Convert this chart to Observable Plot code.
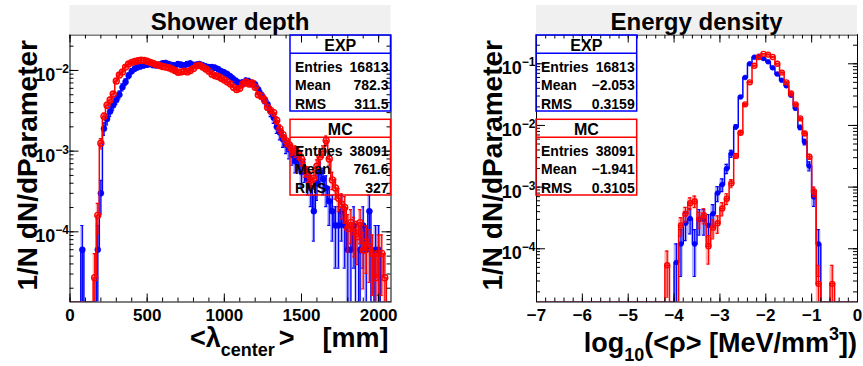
<!DOCTYPE html>
<html><head><meta charset="utf-8">
<script src="https://cdn.jsdelivr.net/npm/d3@7"></script>
<script src="https://cdn.jsdelivr.net/npm/@observablehq/plot@0.6"></script>
<style>
body{margin:0;background:#fff;}
#wrap{display:flex;width:863px;height:366px;overflow:hidden;}
svg{flex:none;}
</style></head><body><div id="wrap"></div>
<script>
// ---------------- data ----------------
// Shower depth: bin centres every 20 mm (0 ... 2060)
const depthCenters = d3.range(0, 2080, 20);
const depthEXP = [
  0,0,0,0,6e-5,0,0,0,0,6e-5,
  3.0e-4,1.9e-3,2.5e-3,3.1e-3,3.7e-3,4.3e-3,5.0e-3,6.2e-3,7.2e-3,8.6e-3,
  9.8e-3,1.05e-2,1.1e-2,1.13e-2,1.16e-2,1.18e-2,1.2e-2,1.17e-2,1.16e-2,1.18e-2,
  1.22e-2,1.24e-2,1.2e-2,1.17e-2,1.15e-2,1.2e-2,1.18e-2,1.15e-2,1.2e-2,1.22e-2,
  1.17e-2,1.18e-2,1.2e-2,1.16e-2,1.12e-2,1.1e-2,1.1e-2,1.08e-2,1.04e-2,9.8e-3,
  9.4e-3,9.0e-3,8.4e-3,7.8e-3,7.3e-3,6.9e-3,7.0e-3,7.4e-3,7.3e-3,6.9e-3,
  6.7e-3,5.8e-3,5.0e-3,4.4e-3,3.8e-3,3.1e-3,2.6e-3,2.0e-3,1.7e-3,1.4e-3,
  1.2e-3,1.05e-3,9.0e-4,7.5e-4,8.0e-4,5.5e-4,6.0e-4,4.5e-4,3.5e-4,1.8e-4,
  4.0e-4,5.5e-4,4.5e-4,3.5e-4,2.4e-4,1.8e-4,1.2e-4,1.2e-4,1.8e-4,1.2e-4,
  6e-5,6e-5,1.2e-4,0,6e-5,1.2e-4,6e-5,1.8e-4,0,6e-5,
  6e-5,0,0,0
];
const depthMC = [
  0,0,0,0,0,0,0,0,2.7e-5,1.6e-4,
  1.25e-3,2.7e-3,3.7e-3,4.3e-3,5.1e-3,7.4e-3,8.8e-3,9.6e-3,1.1e-2,1.2e-2,
  1.26e-2,1.29e-2,1.32e-2,1.34e-2,1.33e-2,1.3e-2,1.26e-2,1.22e-2,1.18e-2,1.15e-2,
  1.12e-2,1.1e-2,1.08e-2,1.04e-2,1.0e-2,9.5e-3,9.6e-3,9.8e-3,9.6e-3,1.0e-2,
  1.06e-2,1.14e-2,1.16e-2,1.1e-2,1.04e-2,9.8e-3,9.0e-3,8.6e-3,8.4e-3,8.0e-3,
  7.6e-3,7.2e-3,6.8e-3,6.2e-3,5.8e-3,6.0e-3,6.8e-3,7.2e-3,6.8e-3,7.0e-3,
  6.2e-3,5.0e-3,4.8e-3,4.3e-3,3.5e-3,3.2e-3,3.0e-3,2.4e-3,1.9e-3,1.6e-3,
  1.35e-3,1.2e-3,1.05e-3,1.0e-3,9.5e-4,8.0e-4,6.0e-4,5.2e-4,4.4e-4,4.6e-4,
  6.5e-4,8.5e-4,1.0e-3,1.35e-3,8.0e-4,4.4e-4,3.5e-4,2.6e-4,2.2e-4,2.0e-4,
  1.1e-4,1.3e-4,1.0e-4,8.7e-5,1.3e-4,5.9e-5,7.5e-5,6.5e-5,5.4e-5,2.7e-5,
  5.4e-5,5.4e-5,2.7e-5,0
];
// Energy density: bin centres every 0.1 (-4.15 ... -0.55)
const rhoCenters = d3.range(37).map(i => +(-4.15 + 0.1 * i).toFixed(2));
const rhoEXP = [
  0,0,6.0e-5,1.2e-4,2.6e-4,3.1e-4,1.2e-4,3.0e-4,3.0e-4,2.4e-4,
  3.7e-4,8.0e-4,1.1e-3,2.0e-3,3.5e-3,9.5e-3,2.9e-2,6.0e-2,0.100,0.128,
  0.132,0.122,0.108,0.086,0.068,0.054,0.044,0.031,0.019,0.0093,
  0.0054,0.0022,6.9e-4,1.2e-4,0,0,0
];
const rhoMC = [
  5.4e-5,0,0,2.4e-4,3.7e-4,5.5e-4,5.9e-4,3.0e-4,3.5e-4,1.1e-4,
  2.2e-4,2.6e-4,4.5e-4,6.5e-4,1.15e-3,3.2e-3,7.6e-3,2.2e-2,5.0e-2,9.3e-2,
  0.129,0.145,0.141,0.129,0.100,0.072,0.050,0.033,0.022,0.013,
  0.0074,0.0031,8.5e-4,2.7e-5,0,0,2.7e-5
];
const entriesEXP = 16813, entriesMC = 38091;
const statLabels = ["Entries", "Mean", "RMS"];
const depthStatsEXP = ["16813", "782.3", "311.5"];
const depthStatsMC  = ["38091", "761.6", "327"];
const rhoStatsEXP = ["16813", "\u22122.053", "0.3159"];
const rhoStatsMC  = ["38091", "\u22121.941", "0.3105"];
const depthXTicks = [0, 500, 1000, 1500, 2000];
const rhoXTicks = [-7, -6, -5, -4, -3, -2, -1, 0];

// ---------------- helpers ----------------
const BLUE = "#0000ff", RED = "#ff0000";
const FONT = "'Liberation Sans', Arial, Helvetica, sans-serif";
function rows(xs, vs, N) {
  return xs.map((x, i) => ({x, v: vs[i], err: Math.sqrt(vs[i] / N)}));
}
function minorLog(domain) {
  const out = [];
  for (let e = -6; e <= 0; e++) for (let m = 1; m <= 9; m++) {
    const v = m * Math.pow(10, e);
    if (v >= domain[0] && v <= domain[1]) out.push(v);
  }
  return out;
}
function makePanel(c) {
  const height = 366, mt = 34.5, mb = 64.5;
  const fh = height - mt - mb, fw = c.width - c.ml - c.mr;
  const ymin = c.yDomain[0];
  const marks = [];
  for (const s of c.series) {
    const nz = s.rows.filter(d => d.v > 0);
    const first = s.rows[0].x, last = s.rows[s.rows.length - 1].x;
    // empty bins outside the listed range, down to the axis
    const line = [{x: c.xDomain[0], v: 0}, {x: first - c.bw, v: 0}, ...s.rows,
                  {x: last + c.bw, v: 0}, {x: c.xDomain[1], v: 0}]
      .filter(d => d.x >= c.xDomain[0] && d.x <= c.xDomain[1]);
    marks.push(
      Plot.rect(nz, {x1: d => d.x - c.bw / 2, x2: d => d.x + c.bw / 2,
        y1: d => Math.max(d.v - d.err, ymin), y2: d => d.v + d.err,
        fill: s.color, fillOpacity: 0.3, clip: true}),
      Plot.lineY(line, {x: "x", y: d => d.v > 0 ? d.v : ymin, curve: "step",
        stroke: s.color, strokeWidth: 1.5, clip: true}),
      Plot.ruleX(nz, {x: "x", y1: d => Math.max(d.v - d.err, ymin), y2: d => d.v + d.err,
        stroke: s.color, strokeWidth: 1.2, clip: true}),
      Plot.ruleY(nz, {y: d => d.v + d.err, x1: d => d.x - c.cap, x2: d => d.x + c.cap,
        stroke: s.color, strokeWidth: 1.2, clip: true}),
      Plot.ruleY(nz.filter(d => d.v - d.err > ymin), {y: d => d.v - d.err,
        x1: d => d.x - c.cap, x2: d => d.x + c.cap, stroke: s.color, strokeWidth: 1.2, clip: true}),
      Plot.dot(nz, {x: "x", y: "v", r: c.r, fill: s.filled ? s.color : "none",
        stroke: s.color, strokeWidth: s.filled ? 0.5 : 1.4, clip: true})
    );
  }
  const yMajor = c.yMajor, yMinor = minorLog(c.yDomain);
  marks.push(
    Plot.tickX(c.xMinor, {x: d => d, insetTop: fh - 4}),
    Plot.tickX(c.xMajor, {x: d => d, insetTop: fh - 8}),
    Plot.tickX(c.xMinor, {x: d => d, insetBottom: fh - 4}),
    Plot.tickX(c.xMajor, {x: d => d, insetBottom: fh - 8}),
    Plot.tickY(yMinor, {y: d => d, insetRight: fw - 4}),
    Plot.tickY(yMajor, {y: d => d, insetRight: fw - 9}),
    Plot.tickY(yMinor, {y: d => d, insetLeft: fw - 4}),
    Plot.tickY(yMajor, {y: d => d, insetLeft: fw - 9}),
    Plot.frame({stroke: "black", strokeWidth: 1}),
    Plot.axisX({ticks: c.xMajor, tickSize: 0, tickPadding: 7, label: null,
      tickFormat: d => d < 0 ? "\u2212" + (-d) : String(d), fontSize: 17, fontWeight: "bold"}),
    Plot.axisY({ticks: yMajor, tickSize: 0, tickPadding: 1, label: null,
      tickFormat: d => "\u2212" + Math.round(-Math.log10(d)), fontSize: 18, fontWeight: "bold"})
  );
  const svg = Plot.plot({
    width: c.width, height, marginLeft: c.ml, marginRight: c.mr, marginTop: mt, marginBottom: mb,
    x: {domain: c.xDomain}, y: {type: "log", domain: c.yDomain},
    style: `font-family:${FONT};font-weight:bold;background:white;overflow:visible;color:black;`,
    marks
  });
  const S = d3.select(svg);
  // 10^n tick labels
  S.selectAll('g[aria-label="y-axis tick label"] text').each(function () {
    const t = d3.select(this); const e = t.text();
    t.text(null).attr("dy", null).attr("y", 10.5);
    t.append("tspan").text("10");
    t.append("tspan").attr("dy", -8).attr("font-size", 12).text(e);
  });
  const x0 = c.ml, x1 = c.width - c.mr;
  const txt = (sel) => sel.append("text").attr("text-anchor", "start").attr("font-weight", "bold")
    .attr("font-family", FONT).attr("fill", "black");
  // title band
  S.append("rect").attr("x", x0).attr("y", 5).attr("width", x1 - x0).attr("height", mt - 5)
    .attr("fill", "#f0f0f0");
  txt(S).attr("x", (x0 + x1) / 2).attr("y", 30).attr("text-anchor", "middle")
    .attr("font-size", 24).text(c.title);
  // y title
  txt(S).attr("transform", `translate(${c.yTitleX},40) rotate(-90)`)
    .attr("text-anchor", "end").attr("font-size", 28).text("1/N dN/dParameter");
  c.xTitle(S, x1, txt);
  // stat boxes
  for (const b of c.boxes) {
    const g = S.append("g");
    g.append("rect").attr("x", b.x0).attr("y", b.y0).attr("width", b.x1 - b.x0)
      .attr("height", b.y1 - b.y0).attr("fill", "none").attr("stroke", b.color).attr("stroke-width", 1.5);
    g.append("line").attr("x1", b.x0).attr("x2", b.x1).attr("y1", b.yh).attr("y2", b.yh)
      .attr("stroke", b.color).attr("stroke-width", 1.5);
    txt(g).attr("x", (b.x0 + b.x1) / 2).attr("y", b.yh - 2.5).attr("text-anchor", "middle")
      .attr("font-size", 16).text(b.name);
    statLabels.forEach((lab, i) => {
      const y = b.yh + 18.3 + 18.6 * i;
      txt(g).attr("x", b.x0 + 5).attr("y", y).attr("font-size", 14).text(lab);
      txt(g).attr("x", b.x1 - 2).attr("y", y).attr("text-anchor", "end")
        .attr("font-size", 14).text(b.vals[i]);
    });
  }
  return svg;
}

const wrap = document.getElementById("wrap");

// ---------------- left panel ----------------
wrap.appendChild(makePanel({
  width: 431, ml: 69.5, mr: 40.5,
  xDomain: [0, 2080], yDomain: [1.35e-5, 0.0275],
  bw: 20, cap: 10, r: 3,
  xMajor: depthXTicks, xMinor: d3.range(0, 2100, 100),
  yMajor: [1e-4, 1e-3, 1e-2],
  title: "Shower depth", yTitleX: 37,
  series: [
    {rows: rows(depthCenters, depthEXP, entriesEXP), color: BLUE, filled: true},
    {rows: rows(depthCenters, depthMC, entriesMC), color: RED, filled: false}
  ],
  xTitle: (S, x1, txt) => {
    const t = txt(S).attr("x", 190).attr("y", 347).attr("font-size", 27);
    t.append("tspan").text("<\u03bb");
    t.append("tspan").attr("dy", 9).attr("font-size", 18).text("center");
    t.append("tspan").attr("dy", -9).attr("dx", 4).text(">");
    txt(S).attr("x", x1 - 2).attr("y", 347).attr("text-anchor", "end")
      .attr("font-size", 27).text("[mm]");
  },
  boxes: [
    {x0: 290, x1: 390.5, y0: 35, yh: 53.3, y1: 111, color: BLUE, name: "EXP", vals: depthStatsEXP},
    {x0: 290, x1: 390.5, y0: 119.3, yh: 137.3, y1: 195, color: RED, name: "MC", vals: depthStatsMC}
  ]
}));

// ---------------- right panel ----------------
wrap.appendChild(makePanel({
  width: 432, ml: 105, mr: 6,
  xDomain: [-7, 0], yDomain: [1.37e-5, 0.293],
  bw: 0.1, cap: 0.035, r: 2.5,
  xMajor: rhoXTicks, xMinor: d3.range(36).map(i => +(-7 + 0.2 * i).toFixed(1)),
  yMajor: [1e-4, 1e-3, 1e-2, 1e-1],
  title: "Energy density", yTitleX: 71,
  series: [
    {rows: rows(rhoCenters, rhoEXP, entriesEXP), color: BLUE, filled: true},
    {rows: rows(rhoCenters, rhoMC, entriesMC), color: RED, filled: false}
  ],
  xTitle: (S, x1, txt) => {
    const t = txt(S).attr("x", x1).attr("y", 352).attr("text-anchor", "end").attr("font-size", 27);
    t.append("tspan").text("log");
    t.append("tspan").attr("dy", 9).attr("font-size", 18).text("10");
    t.append("tspan").attr("dy", -9).text("(<\u03c1> [MeV/mm");
    t.append("tspan").attr("dy", -12).attr("font-size", 18).text("3");
    t.append("tspan").attr("dy", 12).text("])");
  },
  boxes: [
    {x0: 105, x1: 205.7, y0: 35, yh: 53.3, y1: 111, color: BLUE, name: "EXP", vals: rhoStatsEXP},
    {x0: 105, x1: 205.7, y0: 119.3, yh: 137.3, y1: 195, color: RED, name: "MC", vals: rhoStatsMC}
  ]
}));
</script></body></html>
